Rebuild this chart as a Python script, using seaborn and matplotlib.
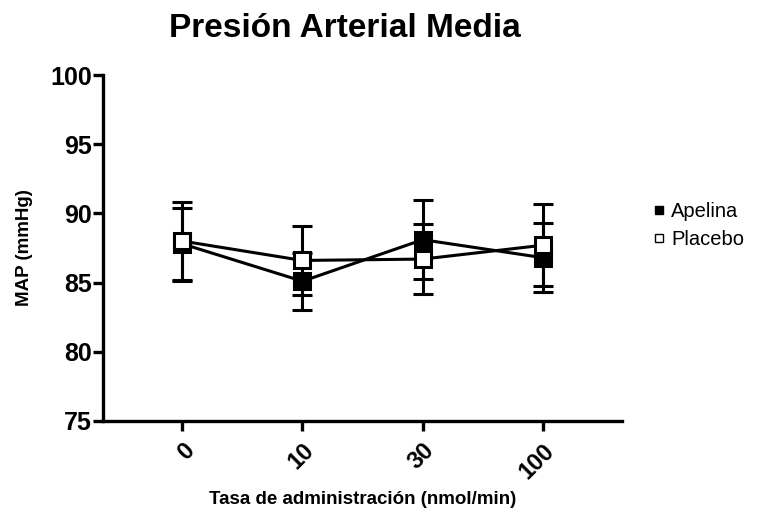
import matplotlib
matplotlib.use("Agg")
import matplotlib.pyplot as plt
from matplotlib.lines import Line2D
import seaborn as sns
import pandas as pd

categories = ["0", "10", "30", "100"]
apelina_mean = [87.8, 85.1, 88.1, 86.8]
apelina_err = [2.6, 2.05, 2.85, 2.5]
placebo_mean = [88.0, 86.6, 86.7, 87.7]
placebo_err = [2.85, 2.5, 2.5, 2.95]

sns.set_theme(style="ticks")
plt.rcParams['font.family'] = ['Liberation Sans', 'DejaVu Sans']
plt.rcParams['text.color'] = 'black'
plt.rcParams['axes.labelcolor'] = 'black'
plt.rcParams['xtick.color'] = 'black'
plt.rcParams['ytick.color'] = 'black'

fig = plt.figure(figsize=(7.57, 5.14), dpi=100)
ax = fig.add_axes([0.136, 0.181, 0.686, 0.673])

df = pd.DataFrame({
    "Tasa": categories * 2,
    "MAP": apelina_mean + placebo_mean,
    "Grupo": ["Apelina"] * 4 + ["Placebo"] * 4,
})

lw = 2.2
for grp, means, errs, face, z in [("Apelina", apelina_mean, apelina_err, "black", 3),
                                    ("Placebo", placebo_mean, placebo_err, "white", 4)]:
    ax.errorbar(categories, means, yerr=errs, fmt="none", ecolor="black",
                elinewidth=lw, capsize=7.5, capthick=lw, zorder=z)
    sns.lineplot(data=df[df["Grupo"] == grp], x="Tasa", y="MAP", ax=ax,
                 color="black", linewidth=lw, marker="s", markersize=11,
                 markerfacecolor=face, markeredgecolor="black", markeredgewidth=lw,
                 sort=False, zorder=z, legend=False)

ax.set_ylim(75, 100)
ax.set_xlim(-0.66, 3.66)
ax.set_yticks([75, 80, 85, 90, 95, 100])
ax.set_xticks(range(len(categories)))
ax.set_xticklabels(categories)

for s in ["top", "right"]:
    ax.spines[s].set_visible(False)
for s in ["left", "bottom"]:
    ax.spines[s].set_linewidth(2.4)
    ax.spines[s].set_color("black")

ax.tick_params(axis="both", direction="out", length=7, width=2.4, colors="black")
ax.tick_params(axis="y", pad=1)
ax.tick_params(axis="x", pad=6)
for lab in ax.get_yticklabels():
    lab.set_fontsize(18)
    lab.set_fontweight("bold")
for lab in ax.get_xticklabels():
    lab.set_fontsize(17)
    lab.set_fontweight("bold")
    lab.set_rotation(45)
    lab.set_ha("right")
    lab.set_va("top")
    lab.set_rotation_mode("anchor")

ax.set_xlabel("Tasa de administración (nmol/min)", fontsize=13.5, fontweight="bold", labelpad=6)
ax.set_ylabel("MAP (mmHg)", fontsize=13.5, fontweight="bold", labelpad=12)
ax.grid(False)

fig.suptitle("Presión Arterial Media", x=0.455, y=0.975, fontsize=24, fontweight="bold")

handles = [
    Line2D([], [], linestyle="none", marker="s", markersize=5.5, markerfacecolor="black",
           markeredgecolor="black", markeredgewidth=1),
    Line2D([], [], linestyle="none", marker="s", markersize=5.5, markerfacecolor="white",
           markeredgecolor="black", markeredgewidth=1),
]
fig.legend(handles, ["Apelina", "Placebo"], loc="center left", bbox_to_anchor=(0.84, 0.562),
           frameon=False, fontsize=14.5, handlelength=0.5, handletextpad=0.35, labelspacing=0.45)

fig.savefig("out.png", dpi=100, facecolor="white")
